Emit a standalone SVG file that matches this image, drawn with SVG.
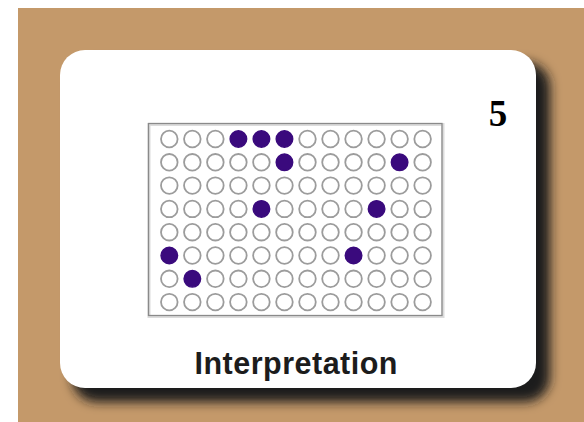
<svg xmlns="http://www.w3.org/2000/svg" width="584" height="422" viewBox="0 0 584 422">
<defs>
<filter id="sh" x="-20%" y="-20%" width="140%" height="140%"><feGaussianBlur stdDeviation="5.5"/></filter>
<style>
.w{fill:#fff;stroke:#9c9c9c;stroke-width:1.8}
.f{fill:#3a0a7d;stroke:#3a0a7d;stroke-width:1.4}
</style>
</defs>
<rect x="0" y="0" width="584" height="422" fill="#fff"/>
<rect x="18" y="8" width="566" height="414" fill="#c4996a"/>
<rect x="72" y="62" width="478" height="340" rx="25" fill="#1a1a1a" filter="url(#sh)"/>
<g id="card">
<rect x="60" y="50" width="476" height="338" rx="25" fill="#fff"/>
</g>
<g id="number"><text x="498" y="125.5" font-family="Liberation Serif, serif" font-weight="bold" font-size="37" text-anchor="middle" fill="#000">5</text></g>
<g id="plate">
<rect x="149" y="124.5" width="294" height="192" fill="#fff" stroke="#dcdcdc" stroke-width="3"/>
<rect x="148.5" y="123.5" width="293.5" height="192" fill="none" stroke="#8a8a8a" stroke-width="1.3"/>
<g id="wells">
<g transform="translate(169.3,139)">
<circle class="w" cx="0" cy="0" r="8.3"/><circle class="w" cx="23.03" cy="0" r="8.3"/><circle class="w" cx="46.06" cy="0" r="8.3"/><circle class="f" cx="69.09" cy="0" r="8.3"/><circle class="f" cx="92.12" cy="0" r="8.3"/><circle class="f" cx="115.15" cy="0" r="8.3"/><circle class="w" cx="138.18" cy="0" r="8.3"/><circle class="w" cx="161.21" cy="0" r="8.3"/><circle class="w" cx="184.24" cy="0" r="8.3"/><circle class="w" cx="207.27" cy="0" r="8.3"/><circle class="w" cx="230.3" cy="0" r="8.3"/><circle class="w" cx="253.33" cy="0" r="8.3"/>
</g>
<g transform="translate(169.3,162.3)">
<circle class="w" cx="0" cy="0" r="8.3"/><circle class="w" cx="23.03" cy="0" r="8.3"/><circle class="w" cx="46.06" cy="0" r="8.3"/><circle class="w" cx="69.09" cy="0" r="8.3"/><circle class="w" cx="92.12" cy="0" r="8.3"/><circle class="f" cx="115.15" cy="0" r="8.3"/><circle class="w" cx="138.18" cy="0" r="8.3"/><circle class="w" cx="161.21" cy="0" r="8.3"/><circle class="w" cx="184.24" cy="0" r="8.3"/><circle class="w" cx="207.27" cy="0" r="8.3"/><circle class="f" cx="230.3" cy="0" r="8.3"/><circle class="w" cx="253.33" cy="0" r="8.3"/>
</g>
<g transform="translate(169.3,185.6)">
<circle class="w" cx="0" cy="0" r="8.3"/><circle class="w" cx="23.03" cy="0" r="8.3"/><circle class="w" cx="46.06" cy="0" r="8.3"/><circle class="w" cx="69.09" cy="0" r="8.3"/><circle class="w" cx="92.12" cy="0" r="8.3"/><circle class="w" cx="115.15" cy="0" r="8.3"/><circle class="w" cx="138.18" cy="0" r="8.3"/><circle class="w" cx="161.21" cy="0" r="8.3"/><circle class="w" cx="184.24" cy="0" r="8.3"/><circle class="w" cx="207.27" cy="0" r="8.3"/><circle class="w" cx="230.3" cy="0" r="8.3"/><circle class="w" cx="253.33" cy="0" r="8.3"/>
</g>
<g transform="translate(169.3,208.9)">
<circle class="w" cx="0" cy="0" r="8.3"/><circle class="w" cx="23.03" cy="0" r="8.3"/><circle class="w" cx="46.06" cy="0" r="8.3"/><circle class="w" cx="69.09" cy="0" r="8.3"/><circle class="f" cx="92.12" cy="0" r="8.3"/><circle class="w" cx="115.15" cy="0" r="8.3"/><circle class="w" cx="138.18" cy="0" r="8.3"/><circle class="w" cx="161.21" cy="0" r="8.3"/><circle class="w" cx="184.24" cy="0" r="8.3"/><circle class="f" cx="207.27" cy="0" r="8.3"/><circle class="w" cx="230.3" cy="0" r="8.3"/><circle class="w" cx="253.33" cy="0" r="8.3"/>
</g>
<g transform="translate(169.3,232.2)">
<circle class="w" cx="0" cy="0" r="8.3"/><circle class="w" cx="23.03" cy="0" r="8.3"/><circle class="w" cx="46.06" cy="0" r="8.3"/><circle class="w" cx="69.09" cy="0" r="8.3"/><circle class="w" cx="92.12" cy="0" r="8.3"/><circle class="w" cx="115.15" cy="0" r="8.3"/><circle class="w" cx="138.18" cy="0" r="8.3"/><circle class="w" cx="161.21" cy="0" r="8.3"/><circle class="w" cx="184.24" cy="0" r="8.3"/><circle class="w" cx="207.27" cy="0" r="8.3"/><circle class="w" cx="230.3" cy="0" r="8.3"/><circle class="w" cx="253.33" cy="0" r="8.3"/>
</g>
<g transform="translate(169.3,255.5)">
<circle class="f" cx="0" cy="0" r="8.3"/><circle class="w" cx="23.03" cy="0" r="8.3"/><circle class="w" cx="46.06" cy="0" r="8.3"/><circle class="w" cx="69.09" cy="0" r="8.3"/><circle class="w" cx="92.12" cy="0" r="8.3"/><circle class="w" cx="115.15" cy="0" r="8.3"/><circle class="w" cx="138.18" cy="0" r="8.3"/><circle class="w" cx="161.21" cy="0" r="8.3"/><circle class="f" cx="184.24" cy="0" r="8.3"/><circle class="w" cx="207.27" cy="0" r="8.3"/><circle class="w" cx="230.3" cy="0" r="8.3"/><circle class="w" cx="253.33" cy="0" r="8.3"/>
</g>
<g transform="translate(169.3,278.8)">
<circle class="w" cx="0" cy="0" r="8.3"/><circle class="f" cx="23.03" cy="0" r="8.3"/><circle class="w" cx="46.06" cy="0" r="8.3"/><circle class="w" cx="69.09" cy="0" r="8.3"/><circle class="w" cx="92.12" cy="0" r="8.3"/><circle class="w" cx="115.15" cy="0" r="8.3"/><circle class="w" cx="138.18" cy="0" r="8.3"/><circle class="w" cx="161.21" cy="0" r="8.3"/><circle class="w" cx="184.24" cy="0" r="8.3"/><circle class="w" cx="207.27" cy="0" r="8.3"/><circle class="w" cx="230.3" cy="0" r="8.3"/><circle class="w" cx="253.33" cy="0" r="8.3"/>
</g>
<g transform="translate(169.3,302.1)">
<circle class="w" cx="0" cy="0" r="8.3"/><circle class="w" cx="23.03" cy="0" r="8.3"/><circle class="w" cx="46.06" cy="0" r="8.3"/><circle class="w" cx="69.09" cy="0" r="8.3"/><circle class="w" cx="92.12" cy="0" r="8.3"/><circle class="w" cx="115.15" cy="0" r="8.3"/><circle class="w" cx="138.18" cy="0" r="8.3"/><circle class="w" cx="161.21" cy="0" r="8.3"/><circle class="w" cx="184.24" cy="0" r="8.3"/><circle class="w" cx="207.27" cy="0" r="8.3"/><circle class="w" cx="230.3" cy="0" r="8.3"/><circle class="w" cx="253.33" cy="0" r="8.3"/>
</g>
</g>
</g>
<g id="label"><text x="296" y="373.5" font-family="Liberation Sans, Arial, sans-serif" font-weight="bold" font-size="30.5" text-anchor="middle" textLength="203" lengthAdjust="spacing" fill="#1c1c1c">Interpretation</text></g>
</svg>
